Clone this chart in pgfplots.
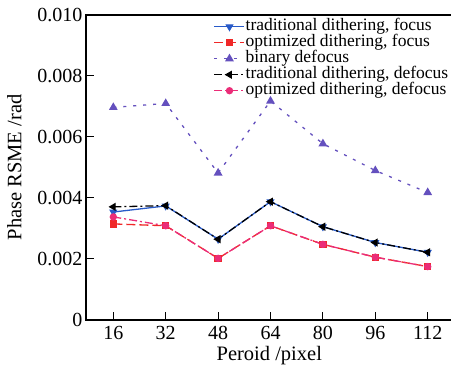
\documentclass[border=0pt]{standalone}
\usepackage{pgfplots}
\pgfplotsset{compat=1.18}
\usepackage{fontspec}
\setmainfont{Liberation Serif}
\definecolor{cblue}{RGB}{40,90,200}
\definecolor{cred}{RGB}{240,40,40}
\definecolor{cpurp}{RGB}{100,80,190}
\definecolor{cpink}{RGB}{235,45,120}
\begin{document}
\begin{tikzpicture}
\clip (-86pt,-50pt) rectangle (365pt,320pt);
\begin{axis}[
  at={(0,0)}, anchor=south west,
  scale only axis,
  width=366.6pt, height=305pt,
  xmin=7.66, xmax=119.6,
  ymin=0, ymax=0.010,
  xtick={16,32,48,64,80,96,112},
  ytick={0,0.002,0.004,0.006,0.008,0.010},
  yticklabels={0,0.002,0.004,0.006,0.008,0.010},
  tick pos=left,
  tick align=inside,
  major tick length=8pt,
  axis line style={line width=1.1pt},
  every tick/.style={line width=1pt, black},
  tick label style={font=\fontsize{20}{22}\selectfont},
  xticklabel style={yshift=-3pt},
  /pgf/number format/assume math mode=true,
  xlabel={Peroid /pixel},
  ylabel={Phase RSME /rad},
  label style={font=\fontsize{20.5}{22}\selectfont},
  xlabel style={yshift=1pt},
  ylabel style={yshift=9pt},
  scaled y ticks=false,
  legend style={at={(0.34,0.995)}, anchor=north west, draw=none, fill=none,
    font=\fontsize{17.5}{17.5}\selectfont, row sep=0pt,
    nodes={inner sep=0.5pt, text height=11.5pt, text depth=3.5pt}},
  legend cell align=left,
  legend image code/.code={\draw[mark repeat=2,mark phase=2] plot coordinates {(0pt,0pt) (15pt,0pt) (30pt,0pt)};},
  every axis plot/.append style={line width=1.3pt},
]
\addplot[cblue, solid, mark=triangle*, mark size=3.5pt, mark options={rotate=180, solid}] coordinates {
(16,0.00354) (32,0.00374) (48,0.00265) (64,0.00388) (80,0.00306) (96,0.00254) (112,0.00222)};
\addlegendentry{traditional dithering, focus}
\addplot[cred, dashed, dash pattern=on 9pt off 4pt, mark=square*, mark size=3pt, mark options={solid}] coordinates {
(16,0.00315) (32,0.00309) (48,0.00202) (64,0.00309) (80,0.00248) (96,0.00206) (112,0.00175)};
\addlegendentry{optimized dithering, focus}
\addplot[cpurp, dash pattern=on 3pt off 7pt, mark=triangle*, mark size=3.8pt, mark options={solid}] coordinates {
(16,0.00697) (32,0.00710) (48,0.00482) (64,0.00718) (80,0.00578) (96,0.00490) (112,0.00418)};
\addlegendentry{binary defocus}
\addplot[black, dash pattern=on 8pt off 3pt on 2pt off 3pt, mark=triangle*, mark size=3.5pt, mark options={rotate=90, solid}] coordinates {
(16,0.00371) (32,0.00375) (48,0.00265) (64,0.00388) (80,0.00306) (96,0.00254) (112,0.00222)};
\addlegendentry{traditional dithering, defocus}
\addplot[cpink, dash pattern=on 8pt off 3pt on 2pt off 3pt, mark=*, mark size=3pt, mark options={solid}] coordinates {
(16,0.00338) (32,0.00309) (48,0.00202) (64,0.00309) (80,0.00248) (96,0.00206) (112,0.00175)};
\addlegendentry{optimized dithering, defocus}
\end{axis}
\end{tikzpicture}
\end{document}
